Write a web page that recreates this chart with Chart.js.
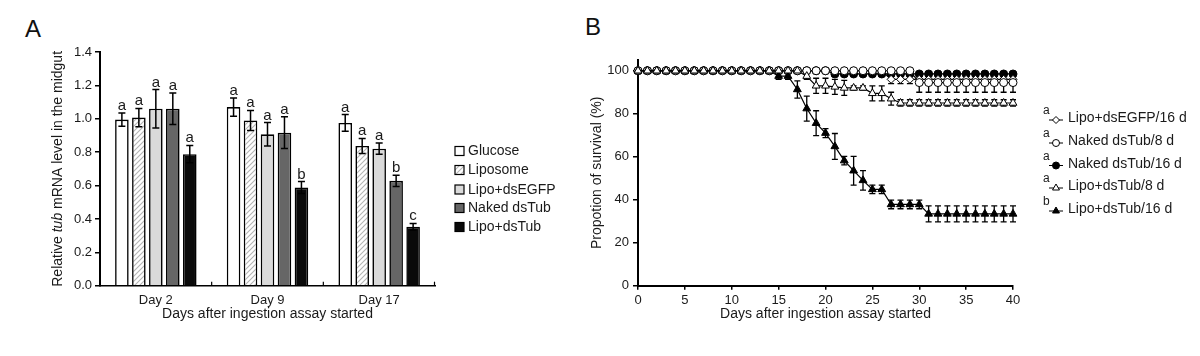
<!DOCTYPE html>
<html><head><meta charset="utf-8">
<script src="https://cdn.jsdelivr.net/npm/chart.js@4.4.0/dist/chart.umd.min.js"></script>
<style>
html,body{margin:0;padding:0;background:#fff;}
body{width:1200px;height:356px;position:relative;overflow:hidden;font-family:"Liberation Sans",Arial,sans-serif;}
#wa{position:absolute;left:0;top:0;width:560px;height:356px;}
#wb{position:absolute;left:560px;top:0;width:640px;height:356px;}
.pl{position:absolute;font-size:24px;color:#111;line-height:1;}
</style></head><body>
<div class="pl" style="left:25px;top:17px">A</div>
<div class="pl" style="left:585px;top:15px">B</div>
<div id="wa"><canvas id="ca"></canvas></div>
<div id="wb"><canvas id="cb"></canvas></div>
<script>
// ---------- Panel A data ----------
const groupsA = ['Day 2', 'Day 9', 'Day 17'];
const namesA = ['Glucose', 'Liposome', 'Lipo+dsEGFP', 'Naked dsTub', 'Lipo+dsTub'];
const glucose = [0.995, 1.07, 0.975];
const liposome = [1.007, 0.99, 0.837];
const lipoEGFP = [1.06, 0.907, 0.821];
const nakedTub = [1.06, 0.917, 0.628];
const lipoTub = [0.788, 0.588, 0.353];
const glucoseErr = [0.04, 0.055, 0.05];
const liposomeErr = [0.055, 0.06, 0.045];
const lipoEGFPErr = [0.115, 0.07, 0.034];
const nakedTubErr = [0.095, 0.095, 0.034];
const lipoTubErr = [0.052, 0.036, 0.02];
const glucoseSig = ['a', 'a', 'a'];
const liposomeSig = ['a', 'a', 'a'];
const lipoEGFPSig = ['a', 'a', 'a'];
const nakedTubSig = ['a', 'a', 'b'];
const lipoTubSig = ['a', 'b', 'c'];
const yTicksA = [0, 0.2, 0.4, 0.6, 0.8, 1.0, 1.2, 1.4];

// ---------- Panel B data ----------
const days = [0,1,2,3,4,5,6,7,8,9,10,11,12,13,14,15,16,17,18,19,20,21,22,23,24,25,26,27,28,29,30,31,32,33,34,35,36,37,38,39,40];
const namesB = ['Lipo+dsEGFP/16 d', 'Naked dsTub/8 d', 'Naked dsTub/16 d', 'Lipo+dsTub/8 d', 'Lipo+dsTub/16 d'];
const sigB = ['a', 'a', 'a', 'a', 'b'];
const egfp16 = [100,100,100,100,100,100,100,100,100,100, 100,100,100,100,100,100,100,100,100,100, 100,100,100,100,100,100,100,96,96,96, 96,96,96,96,96,96,96,96,96,96, 96];
const egfp16Err = [0,0,0,0,0,0,0,0,0,0, 0,0,0,0,0,0,0,0,0,0, 0,0,0,0,0,0,0,2,2,2, 2,2,2,2,2,2,2,2,2,2, 2];
const naked8 = [100,100,100,100,100,100,100,100,100,100, 100,100,100,100,100,100,100,100,100,100, 100,100,100,100,100,100,100,100,100,100, 94.5,94.5,94.5,94.5,94.5,94.5,94.5,94.5,94.5,94.5, 94.5];
const naked8Err = [0,0,0,0,0,0,0,0,0,0, 0,0,0,0,0,0,0,0,0,0, 0,0,0,0,0,0,0,0,0,0, 4.5,4.5,4.5,4.5,4.5,4.5,4.5,4.5,4.5,4.5, 4.5];
const naked16 = [100,100,100,100,100,100,100,100,100,100, 100,100,100,100,100,100,100,100,100,100, 100,98.5,98.5,98.5,98.5,98.5,98.5,98.5,98.5,98.5, 98.5,98.5,98.5,98.5,98.5,98.5,98.5,98.5,98.5,98.5, 98.5];
const naked16Err = [0,0,0,0,0,0,0,0,0,0, 0,0,0,0,0,0,0,0,0,0, 0,1,1,1,1,1,1,1,1,1, 1,1,1,1,1,1,1,1,1,1, 1];
const lipo8 = [100,100,100,100,100,100,100,100,100,100, 100,100,100,100,100,100,100,100,97.5,93, 93,92.5,92,92,92,89.5,89.5,87,85,85, 85,85,85,85,85,85,85,85,85,85, 85];
const lipo8Err = [0,0,0,0,0,0,0,0,0,0, 0,0,0,0,0,0,0,0,1.5,3.5, 3.5,3.5,3.5,1,1,3.5,3.5,3,1.5,1.5, 1.5,1.5,1.5,1.5,1.5,1.5,1.5,1.5,1.5,1.5, 1.5];
const lipo16 = [100,100,100,100,100,100,100,100,100,100, 100,100,100,100,100,97.5,97.5,91.3,82.4,75.6, 71,64.8,58.2,53.5,49,44.8,44.8,37.8,37.8,37.8, 37.8,33.4,33.4,33.4,33.4,33.4,33.4,33.4,33.4,33.4, 33.4];
const lipo16Err = [0,0,0,0,0,0,0,0,0,0, 0,0,0,0,0,1.5,1.5,4,5.8,5.8, 2.1,6,2,6.7,4.5,2,2,2,2,2, 2,3.7,3.7,3.7,3.7,3.7,3.7,3.7,3.7,3.7, 3.7];
const xTicksB = [0, 5, 10, 15, 20, 25, 30, 35, 40];
const yTicksB = [0, 20, 40, 60, 80, 100];

// ---------- common ----------
const FONT = '"Liberation Sans", Arial, sans-serif';
Chart.defaults.font.family = FONT;
Chart.defaults.color = '#1a1a1a';

function hatch() {
  const c = document.createElement('canvas'); c.width = 5; c.height = 5;
  const x = c.getContext('2d');
  x.fillStyle = '#fff'; x.fillRect(0, 0, 5, 5);
  x.strokeStyle = '#b4b4b4'; x.lineWidth = 1.1;
  x.beginPath();
  x.moveTo(0, 5); x.lineTo(5, 0);
  x.moveTo(-1, 1); x.lineTo(1, -1);
  x.moveTo(4, 6); x.lineTo(6, 4);
  x.stroke();
  return x.createPattern(c, 'repeat');
}
const hatchFill = hatch();
const fillsA = ['#ffffff', hatchFill, '#dadada', '#666666', '#0a0a0a'];
const valsA = [glucose, liposome, lipoEGFP, nakedTub, lipoTub];
const errsA = [glucoseErr, liposomeErr, lipoEGFPErr, nakedTubErr, lipoTubErr];
const sigsA = [glucoseSig, liposomeSig, lipoEGFPSig, nakedTubSig, lipoTubSig];

const pluginA = {
  id: 'pa',
  afterDatasetsDraw(chart) {
    const ctx = chart.ctx, y = chart.scales.y;
    ctx.save();
    ctx.strokeStyle = '#000'; ctx.lineWidth = 1.5;
    ctx.fillStyle = '#1a1a1a';
    ctx.font = '15px ' + FONT; ctx.textAlign = 'center'; ctx.textBaseline = 'alphabetic';
    chart.data.datasets.forEach((ds, di) => {
      const meta = chart.getDatasetMeta(di);
      meta.data.forEach((el, i) => {
        const v = ds.data[i], e = ds.errors[i];
        const yt = y.getPixelForValue(v + e), yb = y.getPixelForValue(v - e);
        ctx.beginPath();
        ctx.moveTo(el.x, yt); ctx.lineTo(el.x, yb);
        ctx.moveTo(el.x - 3.5, yt); ctx.lineTo(el.x + 3.5, yt);
        ctx.moveTo(el.x - 3.5, yb); ctx.lineTo(el.x + 3.5, yb);
        ctx.stroke();
        ctx.fillText(ds.sig[i], el.x, yt - 3);
      });
    });
    ctx.restore();
  },
  afterDraw(chart) {
    const ctx = chart.ctx, a = chart.chartArea, x = chart.scales.x;
    ctx.save();
    ctx.strokeStyle = '#000'; ctx.lineWidth = 1.2;
    for (let i = 0; i < groupsA.length; i++) {
      const bx = i < groupsA.length - 1 ? (x.getPixelForValue(i) + x.getPixelForValue(i + 1)) / 2 : a.right - 0.5;
      ctx.beginPath(); ctx.moveTo(bx, a.bottom); ctx.lineTo(bx, a.bottom - 4); ctx.stroke();
    }
    ctx.fillStyle = '#1a1a1a';
    ctx.textBaseline = 'middle';
    const parts = [['Relative ', ''], ['tub', 'italic '], [' mRNA level in the midgut', '']];
    let w = 0;
    parts.forEach(p => { ctx.font = p[1] + '14px ' + FONT; w += ctx.measureText(p[0]).width; });
    ctx.translate(58, (a.top + a.bottom) / 2);
    ctx.rotate(-Math.PI / 2);
    let cx = -w / 2;
    ctx.textAlign = 'left';
    parts.forEach(p => { ctx.font = p[1] + '14px ' + FONT; ctx.fillText(p[0], cx, 0); cx += ctx.measureText(p[0]).width; });
    ctx.restore();
    ctx.save();
    ctx.font = '14px ' + FONT; ctx.textBaseline = 'middle'; ctx.textAlign = 'left';
    const rows = [151, 170, 189.5, 208, 227];
    namesA.forEach((n, i) => {
      ctx.fillStyle = fillsA[i];
      ctx.fillRect(455, rows[i] - 4.5, 9, 9);
      ctx.strokeStyle = '#000'; ctx.lineWidth = 1.2;
      ctx.strokeRect(455, rows[i] - 4.5, 9, 9);
      ctx.fillStyle = '#1a1a1a';
      ctx.fillText(n, 468, rows[i] + 0.5);
    });
    ctx.restore();
  }
};

new Chart(document.getElementById('ca'), {
  type: 'bar',
  data: {
    labels: groupsA,
    datasets: namesA.map((n, i) => ({
      label: n, data: valsA[i], errors: errsA[i], sig: sigsA[i],
      backgroundColor: fillsA[i], borderColor: '#000', borderWidth: 1.6,
      categoryPercentage: 0.76, barPercentage: 0.8
    }))
  },
  options: {
    responsive: true, maintainAspectRatio: false, animation: false, devicePixelRatio: 1,
    layout: { padding: { left: 0, right: 125, top: 52, bottom: 33.6 } },
    plugins: { legend: { display: false }, tooltip: { enabled: false } },
    scales: {
      x: {
        grid: { display: false, drawTicks: false },
        border: { display: true, color: '#000', width: 1.5 },
        ticks: { font: { size: 13 }, padding: 7 },
        title: { display: true, text: 'Days after ingestion assay started', font: { size: 14 }, padding: 0 },
        afterFit: s => { s.height = 36.7; }
      },
      y: {
        min: 0, max: 1.4,
        afterBuildTicks: s => { s.ticks = yTicksA.map(v => ({ value: v })); },
        ticks: { callback: v => v.toFixed(1), font: { size: 13 }, padding: 3 },
        grid: { drawOnChartArea: false, drawTicks: true, tickLength: 5, color: '#000', lineWidth: 1.5 },
        border: { display: true, color: '#000', width: 2 },
        afterFit: s => { s.width = 100; }
      }
    }
  },
  plugins: [pluginA]
});

// ---------- Panel B ----------
const valsB = [egfp16, naked8, naked16, lipo8, lipo16];
const errsB = [egfp16Err, naked8Err, naked16Err, lipo8Err, lipo16Err];
const stylesB = [
  { ps: 'rectRot', fill: '#fff', r: 4, order: 3 },
  { ps: 'circle', fill: '#fff', r: 4, order: 2 },
  { ps: 'circle', fill: '#000', r: 4, order: 4 },
  { ps: 'triangle', fill: '#fff', r: 4.5, order: 0 },
  { ps: 'triangle', fill: '#000', r: 4.5, order: 1 }
];

const pluginB = {
  id: 'pb',
  beforeDatasetsDraw(chart) {
    const ctx = chart.ctx, y = chart.scales.y;
    ctx.save();
    ctx.strokeStyle = '#000'; ctx.lineWidth = 1.3;
    chart.data.datasets.forEach((ds, di) => {
      const meta = chart.getDatasetMeta(di);
      meta.data.forEach((el, i) => {
        const e = ds.errors[i];
        if (!e) return;
        const v = ds.data[i].y;
        const yt = y.getPixelForValue(v + e), yb = y.getPixelForValue(v - e);
        ctx.beginPath();
        ctx.moveTo(el.x, yt); ctx.lineTo(el.x, yb);
        ctx.moveTo(el.x - 3, yt); ctx.lineTo(el.x + 3, yt);
        ctx.moveTo(el.x - 3, yb); ctx.lineTo(el.x + 3, yb);
        ctx.stroke();
      });
    });
    ctx.restore();
  },
  afterDraw(chart) {
    const ctx = chart.ctx;
    ctx.save();
    const rows = [118, 141, 163.5, 186, 209];
    namesB.forEach((n, i) => {
      const ry = rows[i];
      ctx.fillStyle = '#1a1a1a';
      ctx.font = '12px ' + FONT; ctx.textAlign = 'left'; ctx.textBaseline = 'middle';
      ctx.fillText(sigB[i], 483, ry - 7);
      ctx.strokeStyle = '#000'; ctx.lineWidth = 1;
      ctx.beginPath(); ctx.moveTo(489, ry + 2); ctx.lineTo(503, ry + 2); ctx.stroke();
      ctx.fillStyle = stylesB[i].fill;
      ctx.lineWidth = 1;
      Chart.helpers.drawPoint(ctx, { pointStyle: stylesB[i].ps, rotation: 0, radius: stylesB[i].r - 0.5, borderWidth: 1 }, 496, ry + 2);
      ctx.fillStyle = '#1a1a1a';
      ctx.font = '14px ' + FONT;
      ctx.fillText(n, 508, ry + 0.5);
    });
    ctx.restore();
  }
};

new Chart(document.getElementById('cb'), {
  type: 'line',
  data: {
    datasets: namesB.map((n, i) => ({
      label: n,
      data: days.map((d, k) => ({ x: d, y: valsB[i][k] })),
      errors: errsB[i], order: stylesB[i].order,
      borderColor: '#000', borderWidth: 1.2, tension: 0, fill: false, clip: false,
      pointStyle: stylesB[i].ps, pointRadius: stylesB[i].r, pointBorderWidth: 1,
      pointBackgroundColor: stylesB[i].fill, pointBorderColor: '#000'
    }))
  },
  options: {
    responsive: true, maintainAspectRatio: false, animation: false, devicePixelRatio: 1,
    layout: { padding: { left: 0, right: 187, top: 60, bottom: 33.6 } },
    plugins: { legend: { display: false }, tooltip: { enabled: false } },
    scales: {
      x: {
        type: 'linear', min: 0, max: 40,
        afterBuildTicks: s => { s.ticks = xTicksB.map(v => ({ value: v })); },
        ticks: { font: { size: 13 }, padding: 3 },
        grid: { drawOnChartArea: false, drawTicks: true, tickLength: 4, color: '#000', lineWidth: 1.5 },
        border: { display: true, color: '#000', width: 2 },
        title: { display: true, text: 'Days after ingestion assay started', font: { size: 14 }, padding: 0 },
        afterFit: s => { s.height = 36.7; }
      },
      y: {
        min: 0, max: 105,
        afterBuildTicks: s => { s.ticks = yTicksB.map(v => ({ value: v })); },
        ticks: { font: { size: 13 }, padding: 4 },
        grid: { drawOnChartArea: false, drawTicks: true, tickLength: 5, color: '#000', lineWidth: 1.5 },
        border: { display: true, color: '#000', width: 2 },
        title: { display: true, text: 'Propotion of survival (%)', font: { size: 14 }, padding: { top: 29, bottom: 0 } },
        afterFit: s => { s.width = 78; }
      }
    }
  },
  plugins: [pluginB]
});
</script></body></html>
